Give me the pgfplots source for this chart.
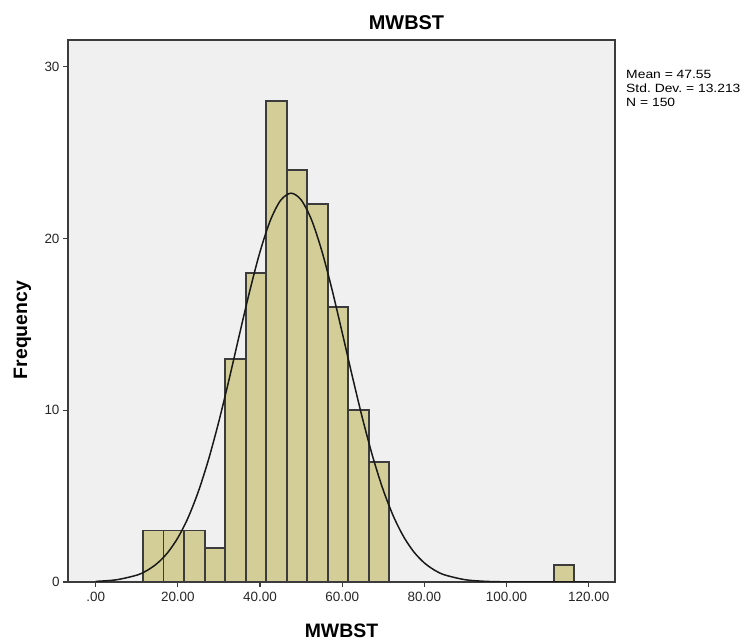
\documentclass[border=0pt]{standalone}
\usepackage{pgfplots}
\pgfplotsset{compat=1.18}
\usepackage{pgfplotstable}
\usepackage{fontspec}
\setmainfont{Liberation Sans}
\definecolor{barfill}{HTML}{D3CE97}
\definecolor{bg}{HTML}{F0F0F0}
\definecolor{edge}{HTML}{3C3C3C}
\pgfplotstableread{
x y
14 3
19 3
24 3
29 2
34 13
39 18
44 28
49 24
54 22
59 16
64 10
69 7
114 1
}\bars
\begin{document}
\frenchspacing
\begin{tikzpicture}
\useasboundingbox (0bp,0bp) rectangle (744bp,641bp);
\begin{axis}[
  at={(68bp,59bp)}, anchor=south west,
  scale only axis, width=547bp, height=542bp,
  xmin=-6.74, xmax=126.4, ymin=0, ymax=31.56,
  axis background/.style={fill=bg},
  axis line style={edge, line width=1.3bp},
  tick style={edge, line width=1.1bp},
  tick align=outside, tick pos=left,
  major tick length=5bp,
  xtick={0,20,40,60,80,100,120},
  xticklabels={.00,20.00,40.00,60.00,80.00,100.00,120.00},
  ytick={0,10,20,30},
  /pgf/number format/assume math mode=true,
  ticklabel style={font=\fontsize{13.5}{15}\selectfont, text=black!85},
  xticklabel style={yshift=-2bp},
  clip=true,
]
\addplot[ybar, bar width=5, bar shift=0, fill=barfill, draw=none] table {\bars};
\addplot[ybar, bar width=5, bar shift=0, fill=none, draw=edge, line width=1.9bp] table {\bars};
\addplot[black!90, line width=1.5bp, smooth, no marks]
coordinates {
(0,0.035) (5,0.127) (10,0.399) (12.5,0.671) (15,1.090) (17.5,1.705) (20,2.575) (22.5,3.75) (25,5.277) (27.5,7.16) (30,9.371) (32.5,11.83) (35,14.42) (37.5,16.95) (40,19.23) (42.5,21.05) (45,22.22) (47.55,22.64) (50,22.25) (52.5,21.11) (55,19.31) (57.5,17.05) (60,14.52) (62.5,11.94) (65,9.466) (67.5,7.24) (70,5.346) (72.5,3.81) (75,2.617) (77.5,1.734) (80,1.110) (82.5,0.685) (85,0.408) (90,0.130) (95,0.036) (100,0.009) (105,0.002) (110,0.0003) (115,0) (120,0)
};
\end{axis}
\node[font=\fontsize{20}{22}\selectfont\bfseries, anchor=base] at (406.5bp,611bp) {MWBST};
\node[font=\fontsize{19.5}{22}\selectfont\bfseries, anchor=base] at (341.5bp,3.5bp) {MWBST};
\node[font=\fontsize{19.5}{22}\selectfont\bfseries, rotate=90, anchor=base] at (27bp,311bp) {Frequency};
\begin{scope}[font=\fontsize{12}{14}\selectfont, every node/.style={anchor=base west, inner sep=0pt, xscale=1.16, transform shape}]
\node at (626bp,562bp) {Mean = 47.55};
\node at (626bp,548bp) {Std. Dev. = 13.213};
\node at (626bp,534bp) {N = 150};
\end{scope}
\end{tikzpicture}
\end{document}
